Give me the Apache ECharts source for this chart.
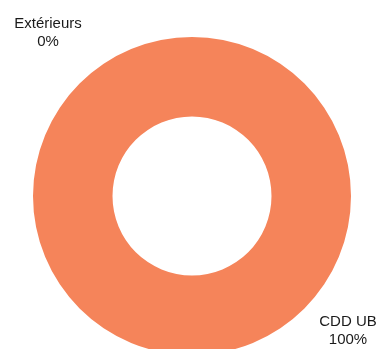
<!DOCTYPE html>
<html><head><meta charset="utf-8">
<script src="https://cdn.jsdelivr.net/npm/echarts@6/dist/echarts.min.js"></script>
<style>html,body{margin:0;padding:0;background:#fff}#c{width:379px;height:349px}</style>
</head><body><div id="c"></div>
<script>
const categories = ['Extérieurs', 'CDD UB'];
const values = [0, 100];
const colors = ['#4472C4', '#F5845A'];
const labelPos = [[48, 33], [348, 331]];

const chart = echarts.init(document.getElementById('c'), null, {renderer: 'canvas'});
chart.setOption({
  animation: false,
  series: [{
    type: 'pie',
    center: [192, 196],
    radius: [79.5, 159],
    startAngle: 90,
    clockwise: true,
    avoidLabelOverlap: false,
    silent: true,
    data: categories.map((c, i) => ({name: c, value: values[i], itemStyle: {color: colors[i]}})),
    label: {
      show: true,
      position: 'outside',
      formatter: '{b}\n{d}%',
      fontFamily: 'Liberation Sans, Arial, sans-serif',
      fontSize: 15,
      lineHeight: 18,
      color: '#1a1a1a',
      align: 'center'
    },
    labelLine: {show: false},
    labelLayout: function (p) {
      const pos = labelPos[p.dataIndex];
      return {x: pos[0], y: pos[1], align: 'center', verticalAlign: 'middle'};
    }
  }]
});
</script></body></html>
